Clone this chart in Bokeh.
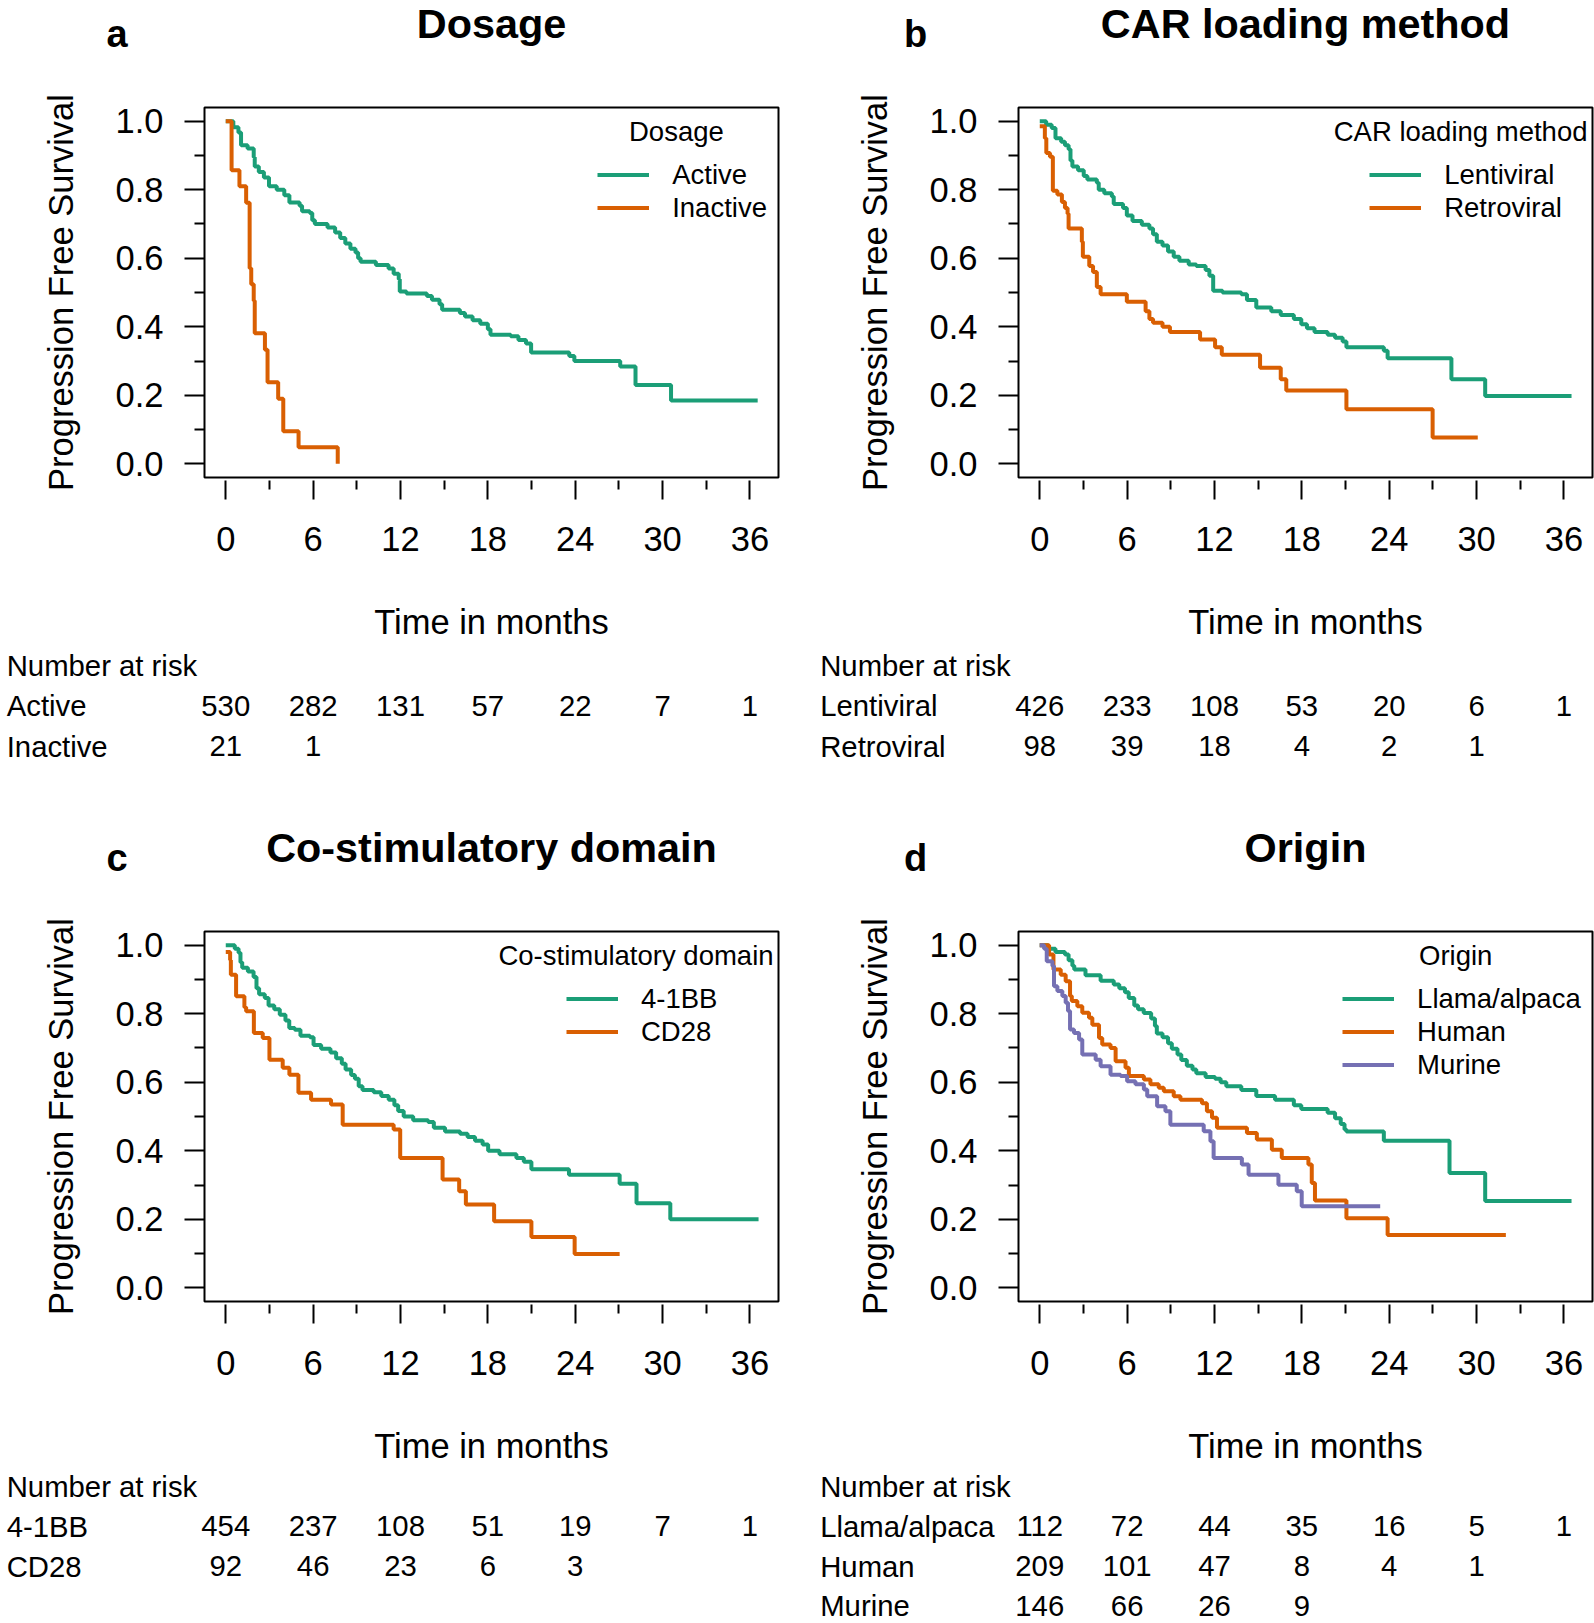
from bokeh.plotting import figure
from bokeh.models import Range1d, FixedTicker, PrintfTickFormatter, Legend, LegendItem, ColumnDataSource
from bokeh.layouts import column, row
from bokeh.core.properties import value
from bokeh.embed import file_html
from bokeh.resources import INLINE

FONT = "Liberation Sans"
GREEN, ORANGE, PURPLE = "#1B9E77", "#D95F02", "#7570B3"

# ---------------- data ----------------
X_TICKS = [0, 6, 12, 18, 24, 30, 36]
X_MINOR = [3, 9, 15, 21, 27, 33]
Y_TICKS = [0.0, 0.2, 0.4, 0.6, 0.8, 1.0]
Y_MINOR = [0.1, 0.3, 0.5, 0.7, 0.9]

# Panel a: Dosage
active_t = [0, 0.52, 0.87, 1.05, 1.5, 1.92, 1.99, 2.27, 2.62, 2.97, 3.5, 4.02, 4.37, 5.07, 5.24, 5.77, 5.94,
            6.12, 6.99, 7.51, 7.86, 8.21, 8.56, 8.91, 9.09, 9.26, 10.31, 11.18, 11.53, 11.88, 11.95, 12.41,
            13.81, 14.16, 14.68, 14.86, 16.08, 16.43, 16.95, 17.48, 18.0, 18.18, 19.57, 20.1, 20.62, 20.97,
            23.59, 23.94, 27.09, 28.14, 30.58, 36.53]
active_s = [1, 0.982, 0.967, 0.93, 0.92, 0.895, 0.868, 0.852, 0.836, 0.81, 0.80, 0.784, 0.763, 0.753, 0.737,
            0.732, 0.711, 0.70, 0.69, 0.675, 0.659, 0.643, 0.628, 0.617, 0.60, 0.59, 0.58, 0.57, 0.555, 0.539,
            0.503, 0.497, 0.49, 0.479, 0.466, 0.45, 0.44, 0.43, 0.419, 0.409, 0.393, 0.377, 0.372, 0.361,
            0.351, 0.325, 0.315, 0.30, 0.284, 0.23, 0.185, 0.185]
inactive_t = [0, 0.4, 0.94, 1.4, 1.64, 1.75, 1.92, 1.99, 2.69, 2.87, 3.6, 3.95, 5.0, 7.69]
inactive_s = [1, 0.857, 0.81, 0.762, 0.571, 0.524, 0.476, 0.381, 0.333, 0.238, 0.19, 0.095, 0.048, 0.0]

# Panel b: CAR loading method
lenti_t = [0, 0.44, 0.82, 1.08, 1.47, 1.73, 1.98, 2.11, 2.24, 2.63, 3.02, 3.27, 3.92, 4.05, 4.43, 4.95, 5.08,
           5.72, 5.98, 6.37, 7.01, 7.53, 7.78, 8.04, 8.43, 8.81, 9.2, 9.59, 10.23, 10.75, 11.39, 11.65, 11.91,
           12.55, 13.84, 14.23, 14.87, 15.9, 16.55, 17.45, 17.96, 18.35, 18.87, 19.77, 20.28, 20.8, 21.06,
           23.63, 23.89, 28.27, 30.59, 36.52]
lenti_s = [1, 0.99, 0.98, 0.95, 0.94, 0.93, 0.918, 0.885, 0.868, 0.857, 0.84, 0.83, 0.82, 0.80, 0.79, 0.78,
           0.758, 0.747, 0.725, 0.709, 0.698, 0.687, 0.67, 0.648, 0.637, 0.62, 0.604, 0.593, 0.582, 0.577,
           0.566, 0.549, 0.505, 0.50, 0.495, 0.478, 0.456, 0.445, 0.434, 0.423, 0.407, 0.396, 0.385, 0.377,
           0.368, 0.357, 0.34, 0.33, 0.308, 0.247, 0.198, 0.198]
retro_t = [0, 0.35, 0.45, 0.70, 0.9, 1.21, 1.52, 1.73, 1.91, 1.98, 2.89, 2.96, 3.4, 3.66, 3.92, 4.18, 5.98,
           7.27, 7.53, 7.78, 8.43, 8.94, 11.01, 12.04, 12.5, 15.13, 16.55, 16.93, 21.06, 26.98, 30.08]
retro_s = [0.985, 0.95, 0.907, 0.896, 0.797, 0.786, 0.764, 0.747, 0.73, 0.687, 0.648, 0.604, 0.577, 0.56,
           0.516, 0.495, 0.473, 0.445, 0.423, 0.412, 0.40, 0.385, 0.363, 0.34, 0.318, 0.28, 0.247, 0.214,
           0.159, 0.077, 0.077]

# Panel c: Co-stimulatory domain
bb_t = [0, 0.62, 0.88, 1.01, 1.13, 1.52, 1.91, 2.11, 2.29, 2.68, 2.94, 3.33, 3.71, 4.1, 4.36, 4.74, 5.13,
        5.78, 6.03, 6.55, 7.19, 7.58, 7.97, 8.23, 8.61, 8.87, 9.13, 9.39, 10.16, 10.68, 11.19, 11.58, 11.84,
        12.22, 12.87, 13.9, 14.29, 15.06, 16.09, 16.61, 17.12, 17.64, 18.02, 18.8, 19.96, 20.47, 20.99,
        23.57, 27.05, 28.21, 30.53, 36.59]
bb_s = [1, 0.99, 0.978, 0.95, 0.934, 0.923, 0.907, 0.874, 0.857, 0.846, 0.824, 0.813, 0.797, 0.78, 0.758,
        0.753, 0.736, 0.731, 0.709, 0.698, 0.687, 0.67, 0.654, 0.637, 0.621, 0.61, 0.588, 0.577, 0.571,
        0.56, 0.549, 0.533, 0.516, 0.50, 0.489, 0.484, 0.467, 0.456, 0.45, 0.44, 0.429, 0.418, 0.40, 0.39,
        0.379, 0.368, 0.346, 0.33, 0.304, 0.247, 0.2, 0.2]
cd28_t = [0, 0.3, 0.35, 0.71, 1.28, 1.4, 1.93, 2.54, 3.0, 3.91, 4.37, 4.99, 5.86, 7.23, 8.03, 11.53, 11.98,
          14.89, 16.03, 16.49, 18.43, 20.99, 23.96, 27.05]
cd28_s = [0.98, 0.957, 0.914, 0.851, 0.819, 0.807, 0.744, 0.729, 0.666, 0.642, 0.622, 0.569, 0.549, 0.535,
          0.476, 0.462, 0.379, 0.316, 0.282, 0.243, 0.194, 0.148, 0.099, 0.099]

# Panel d: Origin
llama_t = [0, 0.57, 1.08, 1.73, 1.98, 2.24, 2.37, 3.14, 4.18, 5.08, 5.46, 5.85, 6.11, 6.49, 6.75, 7.14, 7.65,
           7.91, 8.04, 8.43, 8.81, 9.07, 9.46, 9.72, 10.1, 10.49, 10.75, 11.39, 12.04, 12.42, 12.81, 13.84,
           14.87, 16.16, 17.45, 17.96, 19.77, 20.28, 20.67, 20.93, 21.06, 23.63, 28.14, 30.59, 36.52]
llama_s = [1, 0.99, 0.98, 0.973, 0.956, 0.94, 0.929, 0.912, 0.896, 0.885, 0.874, 0.863, 0.846, 0.824, 0.813,
           0.802, 0.786, 0.764, 0.742, 0.731, 0.714, 0.698, 0.681, 0.665, 0.648, 0.637, 0.626, 0.615, 0.61,
           0.60, 0.588, 0.577, 0.56, 0.549, 0.533, 0.522, 0.511, 0.495, 0.478, 0.462, 0.456, 0.429, 0.335,
           0.253, 0.253]
human_t = [0, 0.64, 0.94, 1.44, 1.78, 2.08, 2.2, 2.58, 2.92, 3.38, 3.61, 4.07, 4.29, 4.86, 5.21, 5.89, 6.12,
           7.15, 7.6, 8.17, 8.52, 9.2, 9.66, 11.14, 11.48, 11.83, 12.17, 14.23, 14.91, 15.94, 16.62, 18.45,
           18.68, 18.9, 21.06, 23.89, 32.01]
human_s = [1, 0.973, 0.929, 0.914, 0.895, 0.852, 0.837, 0.822, 0.803, 0.788, 0.768, 0.729, 0.71, 0.70, 0.661,
           0.642, 0.618, 0.608, 0.594, 0.584, 0.574, 0.559, 0.549, 0.539, 0.515, 0.496, 0.467, 0.452, 0.433,
           0.403, 0.379, 0.36, 0.306, 0.255, 0.203, 0.154, 0.154]
murine_t = [0, 0.3, 0.48, 0.87, 0.98, 1.21, 1.55, 1.78, 1.94, 2.08, 2.35, 2.7, 2.92, 3.84, 4.18, 4.86, 5.55,
            6.0, 6.57, 7.15, 7.38, 8.06, 8.63, 8.97, 11.26, 11.72, 11.94, 13.88, 14.34, 16.39, 17.65, 17.99,
            23.38]
murine_s = [1, 0.99, 0.953, 0.939, 0.88, 0.866, 0.852, 0.832, 0.808, 0.754, 0.744, 0.725, 0.681, 0.666,
            0.647, 0.622, 0.618, 0.603, 0.594, 0.579, 0.559, 0.53, 0.515, 0.476, 0.457, 0.428, 0.379, 0.36,
            0.33, 0.301, 0.282, 0.238, 0.238]

# Numbers at risk (at 0, 6, 12, ... months)
risk_a = {"Active": [530, 282, 131, 57, 22, 7, 1], "Inactive": [21, 1]}
risk_b = {"Lentiviral": [426, 233, 108, 53, 20, 6, 1], "Retroviral": [98, 39, 18, 4, 2, 1]}
risk_c = {"4-1BB": [454, 237, 108, 51, 19, 7, 1], "CD28": [92, 46, 23, 6, 3]}
risk_d = {"Llama/alpaca": [112, 72, 44, 35, 16, 5, 1], "Human": [209, 101, 47, 8, 4, 1],
          "Murine": [146, 66, 26, 9]}

# ---------------- layout constants (pixels inside one panel) ----------------
X0, X1 = -1.46, 37.96          # data limits of the plot box
Y0, Y1 = -0.04, 1.04
BOX_L, BOX_T, BOX_W, BOX_H = 204, 107, 574, 370
KX = BOX_W / (X1 - X0)
KY = BOX_H / (Y1 - Y0)


def px_x(px):
    return X0 + (px - BOX_L) / KX


def px_y(py):
    return Y1 - (py - BOX_T) / KY


def txt(p, xs, ys, texts, size, align="left", bold=False):
    src = ColumnDataSource(dict(x=xs, y=ys, text=texts))
    p.text(x="x", y="y", text="text", source=src, text_font=value(FONT), text_font_size=value(size),
           text_color="black", text_align=value(align), text_baseline=value("middle"),
           text_font_style=value("bold" if bold else "normal"))


def panel(width, height, letter, letter_px, title, leg_title, leg_title_dx, glyph_dx, series, risk, name_px,
          risk_top=664.5, risk_pitch=40.5):
    p = figure(width=width, height=height,
               x_range=Range1d(px_x(0), px_x(width)), y_range=Range1d(px_y(height), px_y(0)),
               output_backend="svg", toolbar_location=None,
               min_border_left=0, min_border_right=0, min_border_top=0, min_border_bottom=0,
               x_axis_label="Time in months", y_axis_label="Progression Free Survival")
    p.xgrid.visible = False
    p.ygrid.visible = False
    p.outline_line_color = None
    p.background_fill_color = "white"
    p.border_fill_color = "white"

    # axes pinned to the edges of the plot box
    xa = p.xaxis[0]
    xa.fixed_location = Y0
    xa.bounds = (X0, X1)
    xa.ticker = FixedTicker(ticks=X_TICKS, minor_ticks=X_MINOR)
    xa.axis_line_color = None
    xa.major_tick_in = -3
    xa.major_tick_out = 22
    xa.minor_tick_in = -3
    xa.minor_tick_out = 12
    ya = p.yaxis[0]
    ya.fixed_location = X0
    ya.bounds = (Y0, Y1)
    ya.ticker = FixedTicker(ticks=Y_TICKS, minor_ticks=Y_MINOR)
    ya.formatter = PrintfTickFormatter(format="%.1f")
    ya.axis_line_color = None
    ya.major_tick_in = 0
    ya.major_tick_out = 20
    ya.minor_tick_in = 0
    ya.minor_tick_out = 10
    for ax in (xa, ya):
        ax.major_tick_line_width = 2
        ax.minor_tick_line_width = 2
        ax.major_tick_line_color = "black"
        ax.minor_tick_line_color = "black"
        ax.major_label_text_font = FONT
        ax.major_label_text_font_size = "34.5px"
        ax.major_label_text_color = "black"
        ax.axis_label_text_font = FONT
        ax.axis_label_text_font_size = "34.5px"
        ax.axis_label_text_font_style = "normal"
        ax.axis_label_text_color = "black"
    xa.major_label_standoff = 27
    xa.axis_label_standoff = 49
    ya.major_label_standoff = 21
    ya.axis_label_standoff = 33

    # plot box
    p.quad(left=[X0], right=[X1], bottom=[Y0], top=[Y1], fill_color=None, line_color="black", line_width=2)

    items = []
    for name, t, s, color in series:
        r = p.step(x=t, y=s, mode="after", line_color=color, line_width=4)
        items.append(LegendItem(label=name, renderers=[r]))

    item_h = 33
    first_dy = 67.8
    n = len(items)
    vy = height - (BOX_T + first_dy - item_h / 2 + n * item_h)
    leg = Legend(items=items, location=(BOX_L + glyph_dx, vy), padding=0, margin=0, spacing=0,
                 glyph_width=52, glyph_height=item_h, label_height=item_h, label_width=10,
                 label_standoff=23, label_text_font=FONT, label_text_font_size="27.5px",
                 label_text_color="black", border_line_color=None, background_fill_alpha=0)
    p.add_layout(leg)
    txt(p, [px_x(BOX_L + leg_title_dx)], [px_y(BOX_T + 24)], [leg_title], "27.5px", align="center")

    # panel letter and title
    txt(p, [px_x(letter_px)], [px_y(33.3)], [letter], "38px", bold=True)
    txt(p, [(X0 + X1) / 2], [px_y(23.1)], [title], "41.4px", align="center", bold=True)

    # number at risk table
    rows_y = [px_y(risk_top + risk_pitch * i) for i in range(len(risk) + 1)]
    txt(p, [px_x(name_px)] * (len(risk) + 1), rows_y, ["Number at risk"] + list(risk.keys()), "29.3px")
    nx, ny, nt = [], [], []
    for i, counts in enumerate(risk.values(), start=1):
        for t, c in zip(X_TICKS, counts):
            nx.append(t)
            ny.append(rows_y[i])
            nt.append(str(c))
    txt(p, nx, ny, nt, "29.3px", align="center")
    return p


WA, WB = 814, 780
HA, HC = 824, 799

pa = panel(WA, HA, "a", 106, "Dosage", "Dosage", 471.9, 393.2,
           [("Active", active_t, active_s, GREEN), ("Inactive", inactive_t, inactive_s, ORANGE)],
           risk_a, 6.2)
pb = panel(WB, HA, "b", 89.6, "CAR loading method", "CAR loading method", 442.1, 351.2,
           [("Lentiviral", lenti_t, lenti_s, GREEN), ("Retroviral", retro_t, retro_s, ORANGE)],
           risk_b, 5.7)
pc = panel(WA, HC, "c", 106, "Co-stimulatory domain", "Co-stimulatory domain", 431.5, 362,
           [("4-1BB", bb_t, bb_s, GREEN), ("CD28", cd28_t, cd28_s, ORANGE)],
           risk_c, 6.2, risk_top=662, risk_pitch=39.8)
pd = panel(WB, HC, "d", 89.6, "Origin", "Origin", 437.2, 324.1,
           [("Llama/alpaca", llama_t, llama_s, GREEN), ("Human", human_t, human_s, ORANGE),
            ("Murine", murine_t, murine_s, PURPLE)],
           risk_d, 5.7, risk_top=662, risk_pitch=39.8)

layout = column(row(pa, pb, spacing=0), row(pc, pd, spacing=0), spacing=0)
open("out.html", "w").write(file_html(layout, INLINE))
